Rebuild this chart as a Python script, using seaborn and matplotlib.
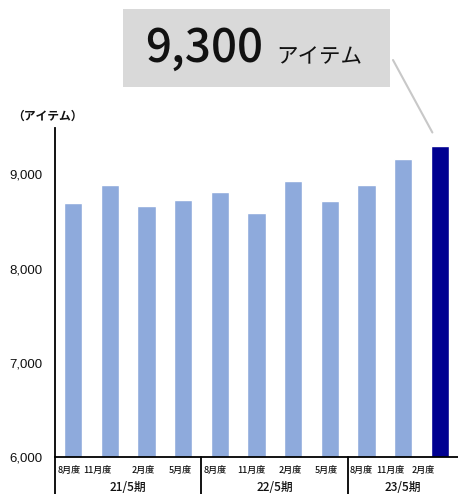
import matplotlib
matplotlib.use("Agg")
import matplotlib.pyplot as plt
from matplotlib.patches import Rectangle
from matplotlib.transforms import ScaledTranslation, blended_transform_factory
import seaborn as sns
import pandas as pd

# Quarterly item counts by fiscal period
months = ["8月度", "11月度", "2月度", "5月度",
          "8月度", "11月度", "2月度", "5月度",
          "8月度", "11月度", "2月度"]
periods = ["21/5期", "22/5期", "23/5期"]
period_sizes = [4, 4, 3]
items = [8700, 8890, 8665, 8730, 8810, 8585, 8930, 8720, 8885, 9165, 9300]
y_ticks = [6000, 7000, 8000, 9000]
unit_label = "（アイテム）"
unit_suffix = "アイテム"

LIGHT = "#8eaadc"
DARK = "#000091"
JP = ["Noto Sans CJK JP", "DejaVu Sans"]

sns.set_theme(style="white")
plt.rcParams["font.family"] = JP

W, H = 458, 494
fig = plt.figure(figsize=(W / 100, H / 100), dpi=100)
ax = fig.add_axes([54.7 / W, (H - 457.3) / H, (W - 54.7) / W, (457.3 - 128) / H])

df = pd.DataFrame({"slot": list(range(len(items))), "items": items})
colors = [LIGHT] * (len(items) - 1) + [DARK]
sns.barplot(data=df, x="slot", y="items", hue="slot", palette=colors,
            legend=False, width=0.5, saturation=1, ax=ax)

ax.set_xlim(-0.5, len(items) - 0.5)
ax.set_ylim(6000, 9490)
ax.set_xlabel("")
ax.set_ylabel("")

# y axis
ax.set_yticks(y_ticks)
ax.set_yticklabels([f"{v:,}" for v in y_ticks], family=["Liberation Sans"],
                   fontsize=9.5, color="#111111")
ax.tick_params(axis="y", length=0, pad=9.0)

# x axis: month labels under each bar
ax.set_xticks(range(len(items)))
ax.set_xticklabels(months, fontsize=6.5, fontweight="medium", color="#111111")
ax.tick_params(axis="x", length=0, pad=6.5)
shifts = [-4, -12, -3, -3, -4, -5, -3, -3, -5, -13, -16]
for lab, dx in zip(ax.get_xticklabels(), shifts):
    lab.set_transform(lab.get_transform() + ScaledTranslation(dx / 100, 0, fig.dpi_scale_trans))

for side in ["top", "right"]:
    ax.spines[side].set_visible(False)
for side in ["left", "bottom"]:
    ax.spines[side].set_color("black")
    ax.spines[side].set_linewidth(1.3)

# period group separators and labels below the axis
trans = blended_transform_factory(ax.transData, ax.transAxes)
start = 0
bounds = [-0.5]
for name, n in zip(periods, period_sizes):
    center = start + (n - 1) / 2
    ax.text(center, 0, name, transform=trans + ScaledTranslation(0, -30.5 / 100, fig.dpi_scale_trans),
            ha="center", va="center", fontsize=8.5, fontweight="medium", color="#111111")
    start += n
    bounds.append(start - 0.5)
for b in bounds[:-1]:
    ax.plot([b, b], [0, -0.2], transform=trans, color="black", lw=1.3, clip_on=False)

# unit label
fig.text(12 / W, 1 - 116 / H, unit_label, ha="left", va="center",
         fontsize=8.5, fontweight="bold", color="#111111")

# highlight box for the latest value
fig.patches.append(Rectangle((123 / W, 1 - 86.7 / H), (390 - 123) / W, (86.7 - 9) / H,
                             transform=fig.transFigure, facecolor="#d9d9d9",
                             edgecolor="none", zorder=0))
fig.text(145 / W, 1 - 61.5 / H, f"{items[-1]:,}", ha="left", va="baseline",
         fontsize=33, fontweight="medium", color="#111111")
fig.text(276 / W, 1 - 63 / H, unit_suffix, ha="left", va="baseline",
         fontsize=15.5, color="#111111")

ax.annotate("", xy=(len(items) - 1, items[-1]), xycoords="data",
            xytext=(393, H - 60), textcoords="figure pixels",
            arrowprops=dict(arrowstyle="-", color="#c8c8c8", lw=1.5,
                            shrinkA=0, shrinkB=11))

fig.savefig("out.png", dpi=100)
